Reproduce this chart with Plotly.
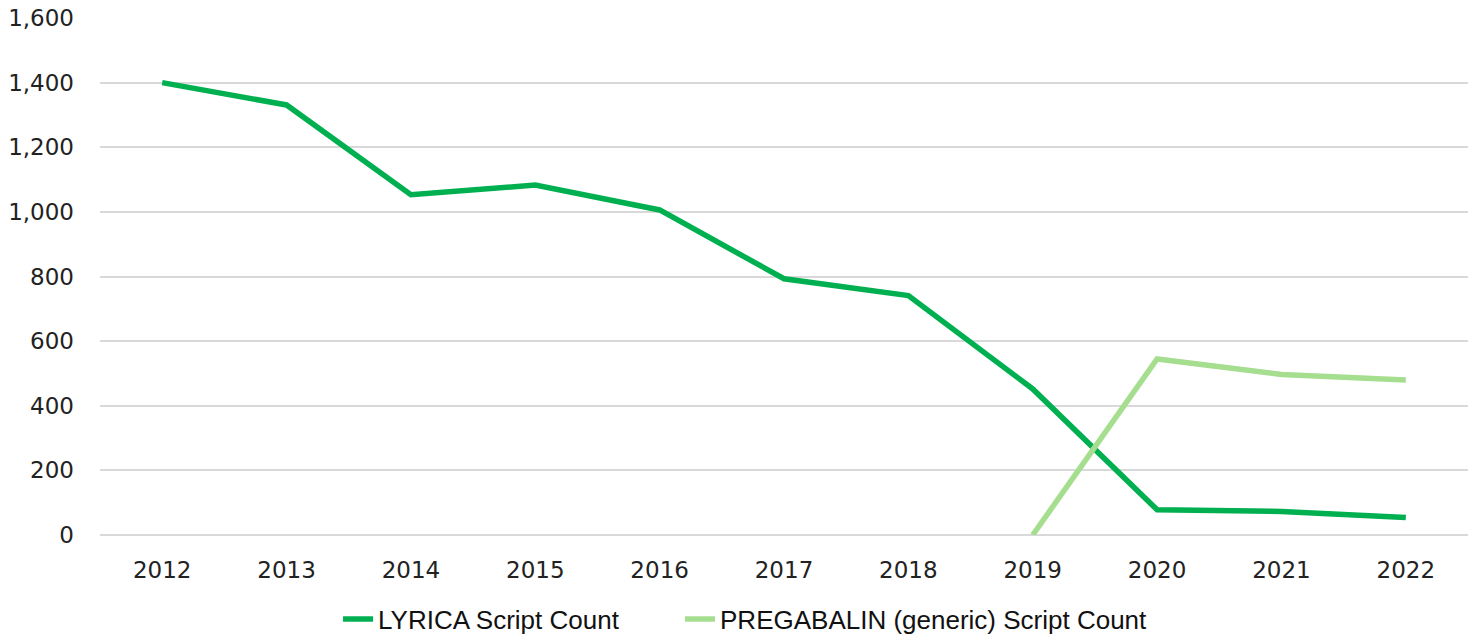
import plotly.graph_objects as go

years = ["2012", "2013", "2014", "2015", "2016", "2017", "2018", "2019", "2020", "2021", "2022"]
lyrica = [1400, 1331, 1053, 1083, 1006, 793, 741, 452, 78, 73, 54]
pregabalin = [None, None, None, None, None, None, None, 0, 545, 497, 480]
y_ticks = [0, 200, 400, 600, 800, 1000, 1200, 1400, 1600]

fig = go.Figure()
fig.add_trace(go.Scatter(x=years, y=lyrica, mode="lines", name="LYRICA Script Count",
                         line=dict(color="#00B050", width=5.5), legend="legend"))
fig.add_trace(go.Scatter(x=years, y=pregabalin, mode="lines", name="PREGABALIN (generic) Script Count",
                         line=dict(color="#A6DE8F", width=5.5), legend="legend2"))

legend_style = dict(orientation="h", xanchor="left", yanchor="middle", y=-0.1625,
                    font=dict(family="Liberation Sans, Arial", size=26, color="#111111"),
                    itemwidth=30, bgcolor="rgba(0,0,0,0)")

fig.update_layout(
    width=1474, height=637,
    paper_bgcolor="white", plot_bgcolor="white",
    margin=dict(l=100, r=6, t=18, b=102, autoexpand=False),
    font=dict(family="DejaVu Sans", size=23, color="#222222"),
    showlegend=True,
    legend=dict(x=0.174, **legend_style),
    legend2=dict(x=0.424, **legend_style),
)
fig.update_xaxes(type="category", range=[-0.5, 10.5], showgrid=False, showline=False,
                 ticks="", ticklabelstandoff=19, tickfont=dict(size=23))
fig.update_yaxes(range=[0, 1600], tickvals=y_ticks, tickformat=",d", showgrid=True,
                 gridcolor="#D9D9D9", gridwidth=1.5, zeroline=True, zerolinecolor="#D9D9D9",
                 zerolinewidth=1.5, showline=False, ticks="", ticklabelstandoff=25,
                 tickfont=dict(size=23))

fig.write_html("out.html", config={"displayModeBar": False},
               post_script="document.body.style.margin='0';document.body.style.overflow='hidden';")
